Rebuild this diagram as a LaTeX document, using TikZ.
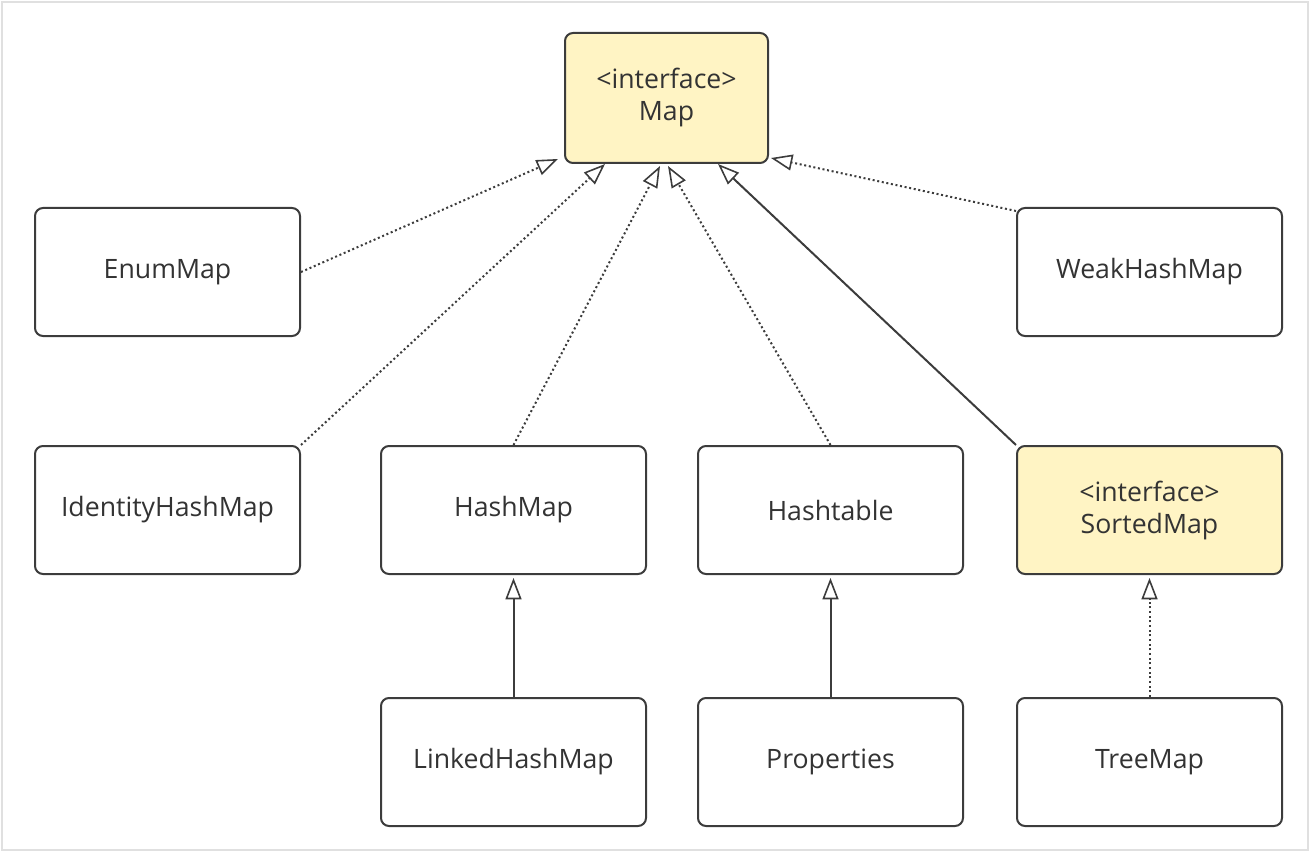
\documentclass[tikz,border=0pt]{standalone}
\usepackage{fontspec}
\setmainfont{Open Sans}
\usetikzlibrary{arrows.meta}
\definecolor{boxline}{HTML}{3C3C3C}
\definecolor{ifill}{HTML}{FFF4C4}
\definecolor{txt}{HTML}{333333}
\begin{document}
\begin{tikzpicture}[x=0.75pt,y=-0.75pt,
  cls/.style={draw=boxline, line width=1.5pt, rounded corners=6pt, fill=white,
    minimum width=265*0.75pt, minimum height=128*0.75pt, inner sep=0pt,
    font=\fontsize{20}{24}\selectfont, text=txt, align=center, anchor=north west},
  iface/.style={cls, fill=ifill},
  umltip/.style={-{Triangle[open, length=16pt, width=12pt, line width=1.2pt]}},
  impl/.style={draw=boxline, line width=1.5pt, dotted, umltip},
  ext/.style={draw=boxline, line width=1.5pt, umltip}]
\useasboundingbox (0,0) rectangle (1310,852);
\draw[color=black!12, line width=1.5pt] (2,2) rectangle (1308,850);
\node[iface, minimum width=203*0.75pt, minimum height=130*0.75pt] (map) at (564,32) {<interface>\\Map};
\node[cls] (enum) at (34,207) {\raisebox{-2pt}{EnumMap}};
\node[cls] (weak) at (1016,207) {\raisebox{-2pt}{WeakHashMap}};
\node[cls] (ident) at (34,445) {\raisebox{-2pt}{IdentityHashMap}};
\node[cls] (hash) at (380,445) {\raisebox{-2pt}{HashMap}};
\node[cls] (htab) at (697,445) {\raisebox{-2pt}{Hashtable}};
\node[iface] (sorted) at (1016,445) {<interface>\\SortedMap};
\node[cls] (lhm) at (380,697) {\raisebox{-2pt}{LinkedHashMap}};
\node[cls] (prop) at (697,697) {\raisebox{-2pt}{Properties}};
\node[cls] (tree) at (1016,697) {\raisebox{-2pt}{TreeMap}};
\coordinate (m1) at (558,159);
\coordinate (m2) at (605,164);
\coordinate (m3) at (660,166);
\coordinate (m4) at (668,166);
\coordinate (m5) at (718,164);
\coordinate (m6) at (771,158);
\draw[impl] (enum.east) -- (m1);
\draw[impl] (ident.north east) -- (m2);
\draw[impl] (hash.north) -- (m3);
\draw[impl] (htab.north) -- (m4);
\draw[ext] (sorted.north west) -- (m5);
\draw[impl] ([yshift=-4*0.75pt]weak.north west) -- (m6);
\draw[ext] (lhm.north) -- ([yshift=-3*0.75pt]hash.south);
\draw[ext] (prop.north) -- ([yshift=-3*0.75pt]htab.south);
\draw[impl] (tree.north) -- ([yshift=-3*0.75pt]sorted.south);
\end{tikzpicture}
\end{document}
